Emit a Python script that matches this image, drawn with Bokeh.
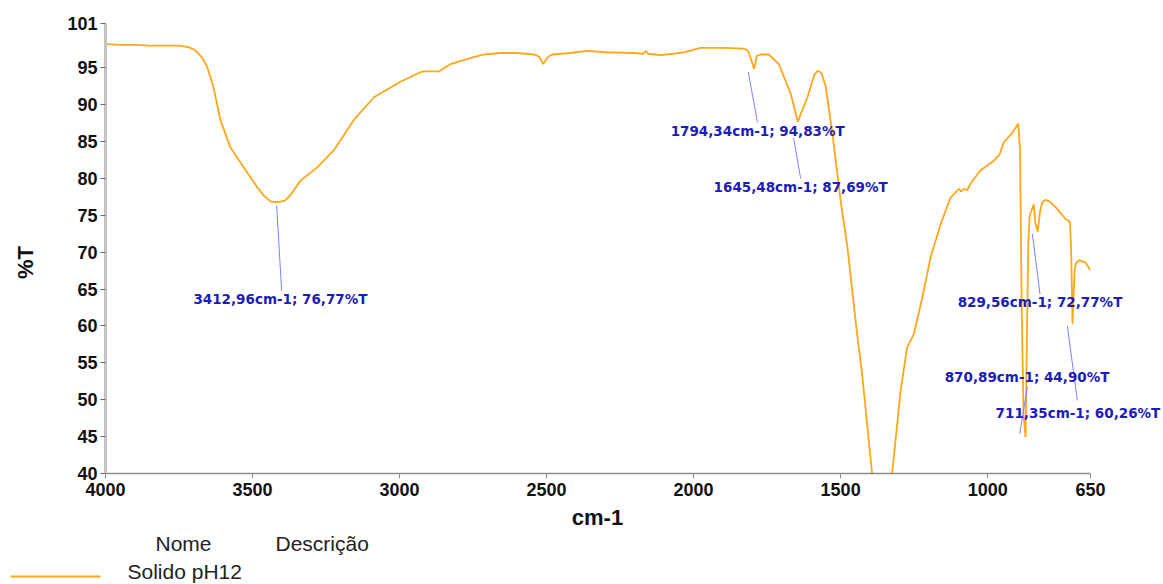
import math
from bokeh.plotting import figure
from bokeh.models import Range1d, FixedTicker, LabelSet, ColumnDataSource
from bokeh.layouts import column, row
from bokeh.embed import file_html
from bokeh.resources import INLINE
from bokeh.core.properties import value

# ---------------- data ----------------
wavenumber = [4000, 3950, 3900, 3850, 3800, 3750, 3718, 3700, 3688, 3670, 3654, 3633, 3609, 3590,
              3575, 3530, 3484, 3460, 3439, 3412.96, 3390, 3370, 3337, 3280, 3224, 3156, 3087,
              2997, 2929, 2917, 2866, 2827, 2760, 2713, 2657, 2600, 2543, 2525, 2511,
              2495, 2481, 2420, 2362, 2300, 2203, 2170, 2163, 2155, 2112, 2070, 2033,
              1976, 1900, 1829, 1815, 1805, 1794.34, 1785, 1772, 1744, 1710, 1670,
              1645.48, 1630, 1613, 1590, 1578, 1565, 1551, 1528, 1500, 1477, 1444, 1427,
              1393, 1360, 1325, 1296, 1274, 1251, 1222, 1194, 1160, 1126, 1098, 1090,
              1081, 1070, 1058, 1024, 979, 960, 945, 920, 896, 890, 884, 878,
              870.89, 866, 862, 857, 843, 838, 829.56, 822, 814, 803, 790,
              769, 735, 720, 716, 713, 711.35, 709, 704, 700, 688, 667, 652]
transmittance = [98.2, 98.1, 98.1, 98.0, 98.0, 98.0, 97.8, 97.5, 97.1, 96.3, 95.1, 92.4, 87.9, 85.8,
                 84.2, 81.5, 78.8, 77.6, 76.9, 76.77, 77.0, 77.8, 79.7, 81.5, 83.8, 87.9, 91.0,
                 93.1, 94.4, 94.5, 94.5, 95.5, 96.3, 96.8, 97.0, 97.0, 96.8, 96.5, 95.5,
                 96.5, 96.8, 97.0, 97.3, 97.1, 97.0, 96.9, 97.3, 96.9, 96.7, 96.9, 97.1,
                 97.7, 97.7, 97.6, 97.3, 96.2, 94.83, 96.6, 96.8, 96.8, 95.5, 91.5,
                 87.69, 89.3, 91.0, 94.0, 94.6, 94.3, 92.5, 86.1, 77.0, 70.7, 58.9, 53.5,
                 40.0, 33.0, 40.0, 51.2, 57.1, 58.9, 63.9, 69.3, 73.8, 77.4, 78.6, 78.2,
                 78.6, 78.4, 79.3, 81.1, 82.4, 83.2, 84.9, 86.0, 87.4, 84.0, 62.0, 48.0,
                 44.9, 60.0, 71.0, 75.0, 76.5, 74.0, 72.77, 75.5, 76.8, 77.1, 76.9,
                 76.1, 74.5, 74.1, 70.0, 64.0, 60.26, 63.0, 67.5, 68.5, 68.9, 68.6, 67.6]

x_ticks = [4000, 3500, 3000, 2500, 2000, 1500, 1000, 650]
y_ticks = [40, 45, 50, 55, 60, 65, 70, 75, 80, 85, 90, 95, 101]
x_title = "cm-1"
y_title = "%T"

peak_labels = ["3412,96cm-1; 76,77%T", "1794,34cm-1; 94,83%T", "1645,48cm-1; 87,69%T",
               "829,56cm-1; 72,77%T", "870,89cm-1; 44,90%T", "711,35cm-1; 60,26%T"]
# leader line start / end, and label anchor (left edge, middle), in data units
leader_x0 = [3418, 1814, 1660, 848, 891, 729]
leader_y0 = [76.3, 94.4, 85.5, 72.5, 45.4, 60.0]
leader_x1 = [3401, 1783, 1636, 822, 865, 695]
leader_y1 = [64.8, 87.6, 80.0, 64.3, 51.7, 49.9]
label_x = [3701, 2078, 1932, 1102, 1146, 973]
label_y = [63.7, 86.4, 78.9, 63.3, 53.1, 48.2]

series_name = "Solido pH12"
legend_headers = ["Nome", "Descrição"]

ORANGE = "#FFA71A"
TEXT = "#111111"


def bare(fig):
    fig.grid.visible = False
    fig.outline_line_color = None
    fig.background_fill_color = "white"
    fig.border_fill_color = "white"
    return fig


# ---------------- y-title strip (left) ----------------
ys = bare(figure(width=45, height=505, x_range=Range1d(0, 45), y_range=Range1d(0, 505),
                 output_backend="svg", toolbar_location=None,
                 x_axis_location=None, y_axis_location=None,
                 min_border_left=0, min_border_right=0, min_border_top=0, min_border_bottom=0))
ys.frame_align = False
ys.text(x=[25], y=[243], text=[y_title], angle=math.pi / 2,
        text_align="center", text_baseline="middle",
        text_font=value("Liberation Sans"), text_font_style="bold",
        text_font_size="22px", text_color=TEXT)

# ---------------- main chart ----------------
# the frame runs to the right edge so that the peak labels are not clipped;
# the x axis line itself is bounded to 4000..650
p = bare(figure(width=1118, height=505, x_range=Range1d(4000, 402), y_range=Range1d(40, 101),
                output_backend="svg", toolbar_location=None,
                min_border_left=60, min_border_right=0, min_border_top=23, min_border_bottom=32))
p.frame_align = False

p.line(wavenumber, transmittance, line_color=ORANGE, line_width=1.8)

p.segment(x0=leader_x0, y0=leader_y0, x1=leader_x1, y1=leader_y1,
          line_color="#8080ff", line_width=1)

src = ColumnDataSource(dict(x=label_x, y=label_y, text=peak_labels))
p.add_layout(LabelSet(x="x", y="y", text="text", source=src,
                      text_align="left", text_baseline="middle",
                      text_font=value("DejaVu Sans"), text_font_style="bold",
                      text_font_size="13.5px", text_color="#1c1cb8"))

# x axis
p.xaxis.ticker = FixedTicker(ticks=x_ticks)
p.xaxis.bounds = (650, 4000)
p.xaxis.axis_line_color = "#8c8c8c"
p.xaxis.axis_line_width = 1.5
p.xaxis.major_tick_line_color = "#8c8c8c"
p.xaxis.major_tick_out = 5
p.xaxis.major_tick_in = 0
p.xaxis.minor_tick_line_color = None
p.xaxis.major_label_standoff = 4

# y axis
p.yaxis.ticker = FixedTicker(ticks=y_ticks)
p.yaxis.axis_line_color = "#c4c4c4"
p.yaxis.axis_line_width = 3
p.yaxis.major_tick_line_color = "#666666"
p.yaxis.major_tick_out = 5
p.yaxis.major_tick_in = 0
p.yaxis.minor_tick_line_color = None
p.yaxis.major_label_standoff = 3

for ax in (p.xaxis, p.yaxis):
    ax.major_label_text_font = "Liberation Sans"
    ax.major_label_text_font_style = "bold"
    ax.major_label_text_font_size = "18px"
    ax.major_label_text_color = TEXT

# ---------------- x-title + legend strip (bottom) ----------------
lg = bare(figure(width=1163, height=79, x_range=Range1d(0, 1163), y_range=Range1d(0, 79),
                 output_backend="svg", toolbar_location=None,
                 x_axis_location=None, y_axis_location=None,
                 min_border_left=0, min_border_right=0, min_border_top=0, min_border_bottom=0))
lg.frame_align = False
lg.text(x=[597], y=[67], text=[x_title], text_align="center", text_baseline="middle",
        text_font=value("Liberation Sans"), text_font_style="bold",
        text_font_size="22px", text_color=TEXT)
lg.line([10, 100], [8, 8], line_color=ORANGE, line_width=1.8)
lg.text(x=[155, 275, 127], y=[41, 41, 13], text=legend_headers + [series_name],
        text_align="left", text_baseline="middle",
        text_font=value("Liberation Sans"), text_font_size="21px", text_color="#222222")

layout = column(row(ys, p, spacing=0), lg, spacing=0)
open("out.html", "w").write(file_html(layout, INLINE))
